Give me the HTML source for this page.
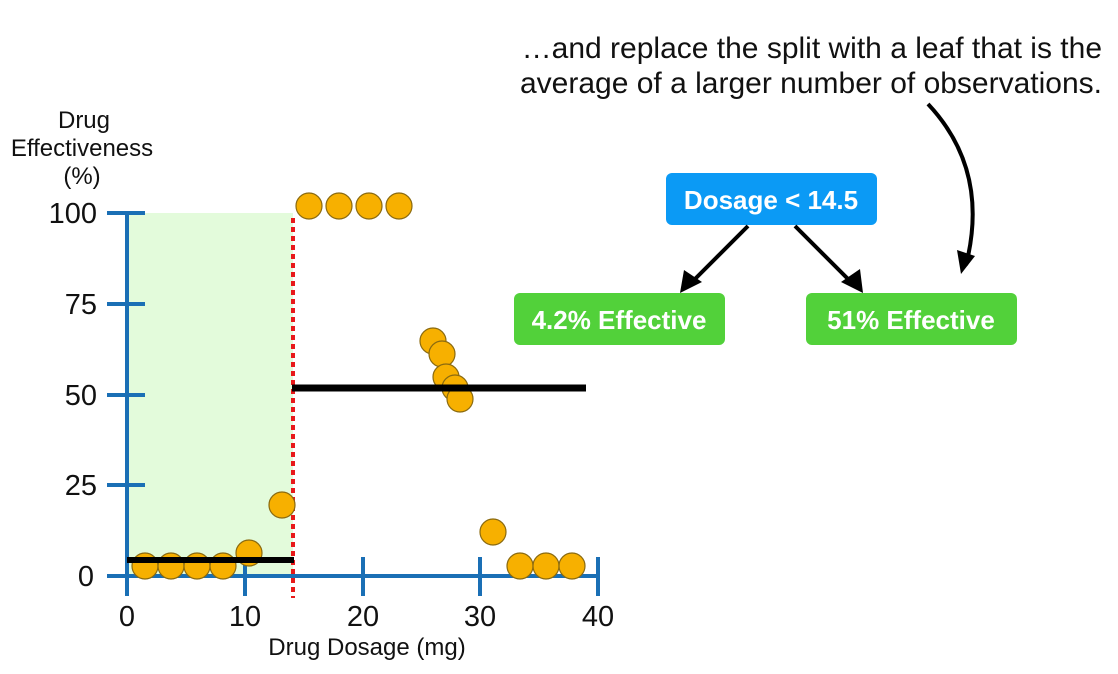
<!DOCTYPE html>
<html><head><style>
body{margin:0;background:#fff}
svg{display:block;font-family:"Liberation Sans",sans-serif}
</style></head><body>
<svg width="1118" height="674" viewBox="0 0 1118 674">
<rect x="127" y="213" width="166" height="363" fill="#e3fbdb"/>
<g stroke="#1a6fb5" stroke-width="4" fill="none">
<line x1="127" y1="213" x2="127" y2="596"/>
<line x1="107" y1="576" x2="599" y2="576"/>
<line x1="107" y1="213" x2="145" y2="213"/>
<line x1="107" y1="304" x2="145" y2="304"/>
<line x1="107" y1="395" x2="145" y2="395"/>
<line x1="107" y1="485" x2="145" y2="485"/>
<line x1="245" y1="557" x2="245" y2="596"/>
<line x1="363" y1="557" x2="363" y2="596"/>
<line x1="480" y1="557" x2="480" y2="596"/>
<line x1="598" y1="557" x2="598" y2="596"/>
</g>
<line x1="293" y1="218" x2="293" y2="598" stroke="#e8191a" stroke-width="4" stroke-dasharray="5,4"/>
<g fill="#f7b000" stroke="#8a6a10" stroke-width="1.2">
<circle cx="145" cy="566" r="13"/><circle cx="171" cy="566" r="13"/><circle cx="197" cy="566" r="13"/><circle cx="223" cy="566" r="13"/>
<circle cx="249" cy="553" r="13"/><circle cx="282" cy="505" r="13"/>
<circle cx="309" cy="206" r="13"/><circle cx="339" cy="206" r="13"/><circle cx="369" cy="206" r="13"/><circle cx="399" cy="206" r="13"/>
<circle cx="433" cy="341" r="13"/><circle cx="442" cy="354" r="13"/><circle cx="446" cy="377" r="13"/><circle cx="455" cy="388" r="13"/><circle cx="460" cy="399" r="13"/>
<circle cx="493" cy="532" r="13"/>
<circle cx="520" cy="566" r="13"/><circle cx="546" cy="566" r="13"/><circle cx="572" cy="566" r="13"/>
</g>
<line x1="127" y1="560" x2="294" y2="560" stroke="#000" stroke-width="6"/>
<line x1="292" y1="388" x2="586" y2="388" stroke="#000" stroke-width="7"/>
<g font-size="29" fill="#111" text-anchor="end">
<text x="97" y="223">100</text><text x="97" y="314">75</text><text x="97" y="405">50</text><text x="97" y="495">25</text><text x="94" y="586">0</text>
</g>
<g font-size="29" fill="#111" text-anchor="middle">
<text x="127" y="626">0</text><text x="245" y="626">10</text><text x="363" y="626">20</text><text x="480" y="626">30</text><text x="598" y="626">40</text>
</g>
<text x="367" y="655" font-size="24" text-anchor="middle" fill="#111">Drug Dosage (mg)</text>
<g font-size="24" text-anchor="middle" fill="#111">
<text x="84" y="128">Drug</text><text x="82" y="156">Effectiveness</text><text x="82" y="184">(%)</text>
</g>
<g font-size="30" text-anchor="end" fill="#111">
<text x="1102" y="58">…and replace the split with a leaf that is the</text>
<text x="1102" y="93">average of a larger number of observations.</text>
</g>
<rect x="666" y="173" width="211" height="52" rx="6" fill="#0b9af5"/>
<text x="771" y="209" font-size="26" font-weight="bold" fill="#fff" text-anchor="middle">Dosage &lt; 14.5</text>
<rect x="514" y="293" width="211" height="52" rx="6" fill="#52d13a"/>
<text x="619" y="329" font-size="26" font-weight="bold" fill="#fff" text-anchor="middle">4.2% Effective</text>
<rect x="806" y="293" width="211" height="52" rx="6" fill="#52d13a"/>
<text x="911" y="329" font-size="26" font-weight="bold" fill="#fff" text-anchor="middle">51% Effective</text>
<g stroke="#000" stroke-width="4" fill="none">
<line x1="748" y1="226" x2="688" y2="286"/>
<line x1="795" y1="226" x2="855" y2="286"/>
<path d="M928 104 Q990 170 966 265"/>
</g>
<g fill="#000">
<polygon points="680,293 684,270 702,282"/>
<polygon points="863,293 841,282 860,269"/>
<polygon points="961,274 957,250 975,256"/>
</g>
</svg>
</body></html>
